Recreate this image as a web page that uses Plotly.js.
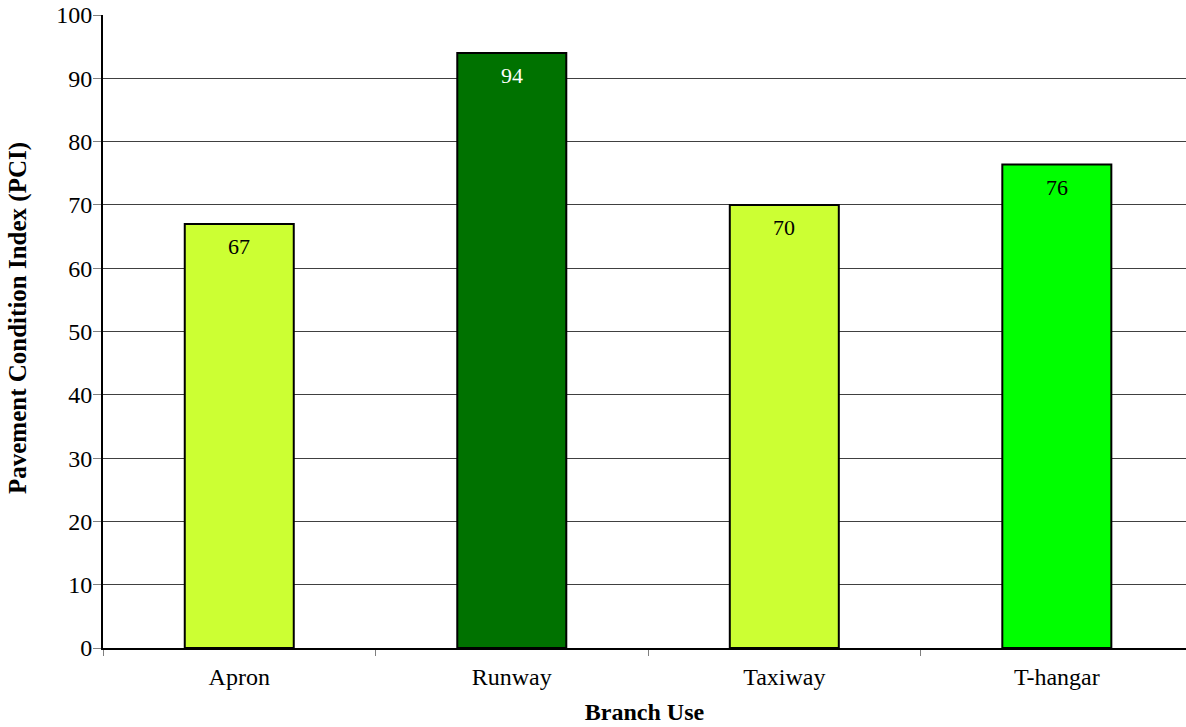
<!DOCTYPE html>
<html>
<head>
<meta charset="utf-8">
<script src="https://cdn.plot.ly/plotly-3.0.1.min.js"></script>
<style>html,body{margin:0;padding:0;background:#fff;}#chart{width:1186px;height:727px;}</style>
</head>
<body>
<div id="chart"></div>
<script>
const categories = ["Apron", "Runway", "Taxiway", "T-hangar"];
const pciValues = [67, 94, 70, 76.4];
const valueLabels = ["67", "94", "70", "76"];
const barColors = ["#CCFF33", "#007200", "#CCFF33", "#00FF00"];
const labelColors = ["#000000", "#FFFFFF", "#000000", "#000000"];
const yTicks = [0, 10, 20, 30, 40, 50, 60, 70, 80, 90, 100];
const xTitle = "Branch Use";
const yTitle = "Pavement Condition Index (PCI)";

const font = "'Liberation Serif', 'Times New Roman', serif";
const fs = 24;

const trace = {
  type: "bar",
  x: categories,
  y: pciValues,
  marker: {color: barColors, line: {color: "#000", width: 2}},
  hoverinfo: "x+y"
};

const annotations = categories.map((c, i) => ({
  x: c, y: pciValues[i], xref: "x", yref: "y",
  text: valueLabels[i], showarrow: false,
  yanchor: "middle", yshift: -23,
  font: {family: font, size: 22, color: labelColors[i]}
}));

annotations.push({
  xref: "paper", yref: "paper", x: 0, y: 0.5213,
  xshift: -85, xanchor: "center", yanchor: "middle",
  textangle: -90, showarrow: false,
  text: "<b>" + yTitle + "</b>",
  font: {family: font, size: 25, color: "#000"}
});

const layout = {
  width: 1186,
  height: 727,
  margin: {l: 103, r: 0, t: 15, b: 79},
  paper_bgcolor: "#fff",
  plot_bgcolor: "#fff",
  bargap: 0.6,
  showlegend: false,
  font: {family: font, size: fs, color: "#000"},
  annotations: annotations,
  xaxis: {
    type: "category",
    range: [-0.5, 3.474],
    tickson: "boundaries",
    ticks: "outside",
    ticklen: 6,
    tickcolor: "#808080",
    tickwidth: 1,
    showline: true,
    linecolor: "#000",
    linewidth: 2,
    showgrid: false,
    automargin: false,
    ticklabelstandoff: 6,
    tickfont: {family: font, size: fs, color: "#000"},
    title: {text: "<b>" + xTitle + "</b>", font: {family: font, size: fs, color: "#000"}, standoff: 14}
  },
  yaxis: {
    range: [0, 100],
    tickvals: yTicks,
    ticktext: yTicks.map(String),
    ticks: "outside",
    ticklen: 8,
    tickcolor: "#808080",
    tickwidth: 1,
    showline: true,
    linecolor: "#000",
    linewidth: 2,
    mirror: true,
    showgrid: true,
    gridcolor: "#404040",
    gridwidth: 1,
    zeroline: false,
    automargin: false,
    ticklabelstandoff: -4,
    tickfont: {family: font, size: fs, color: "#000"}
  }
};

Plotly.newPlot("chart", [trace], layout, {displayModeBar: false, staticPlot: true});
</script>
</body>
</html>
